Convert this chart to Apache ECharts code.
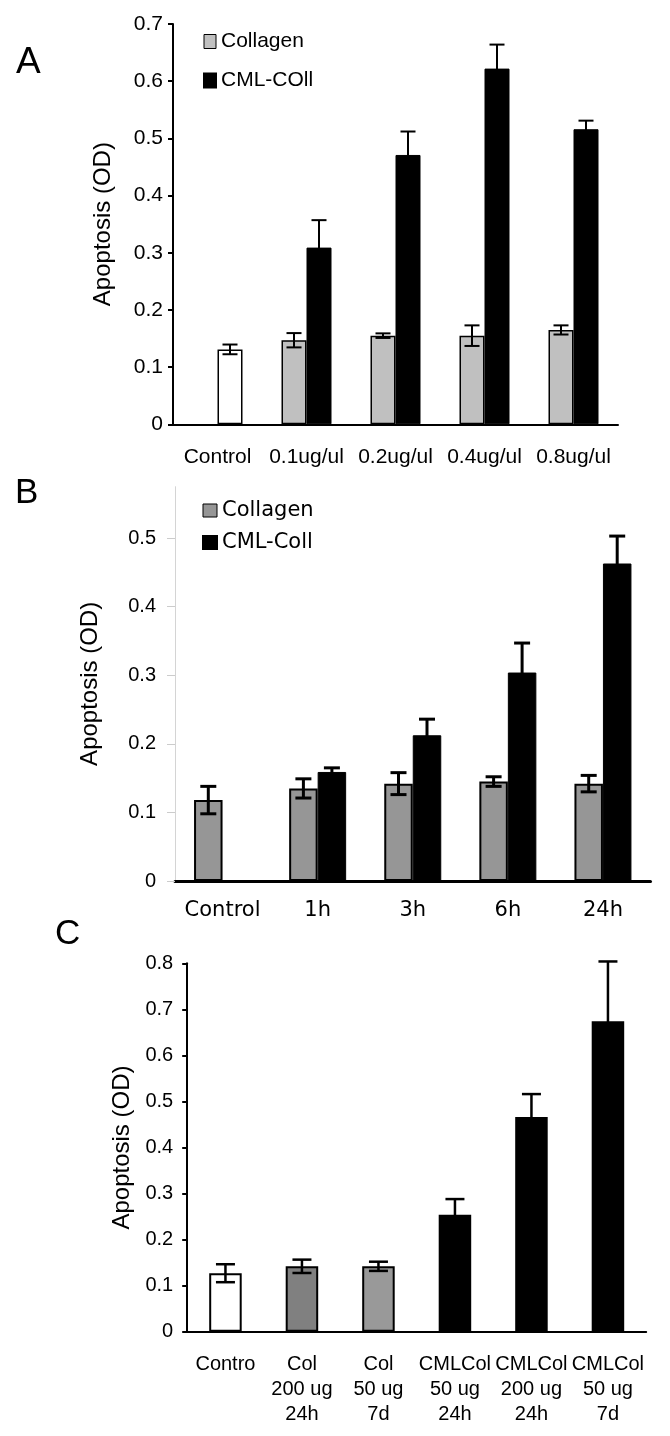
<!DOCTYPE html>
<html>
<head>
<meta charset="utf-8">
<script src="https://cdn.jsdelivr.net/npm/echarts@6/dist/echarts.min.js"></script>
<style>
  html, body { margin: 0; padding: 0; background: #ffffff; }
  #chart { width: 670px; height: 1436px; }
</style>
</head>
<body>
<div id="chart"></div>
<script>
// ---------- Panel A data ----------
const aCategories = ['Control', '0.1ug/ul', '0.2ug/ul', '0.4ug/ul', '0.8ug/ul'];
const aControl = [0.131];
const aControlErr = [0.0085];
const aCollagen = [null, 0.147, 0.155, 0.155, 0.165];
const aCollagenErr = [null, 0.0125, 0.004, 0.018, 0.008];
const aCML = [null, 0.309, 0.471, 0.622, 0.516];
const aCMLErr = [null, 0.048, 0.041, 0.042, 0.015];
const aTicks = [0, 0.7, 0.1];

// ---------- Panel B data ----------
const bCategories = ['Control', '1h', '3h', '6h', '24h'];
const bControl = [0.118];
const bControlErr = [0.020];
const bCollagen = [null, 0.135, 0.142, 0.145, 0.142];
const bCollagenErr = [null, 0.014, 0.016, 0.007, 0.012];
const bCML = [null, 0.159, 0.2125, 0.304, 0.463];
const bCMLErr = [null, 0.006, 0.0235, 0.043, 0.040];

// ---------- Panel C data ----------
const cCategories = ['Contro', 'Col\n200 ug\n24h', 'Col\n50 ug\n7d', 'CMLCol\n50 ug\n24h', 'CMLCol\n200 ug\n24h', 'CMLCol\n50 ug\n7d'];
const cValues = [0.127, 0.142, 0.142, 0.254, 0.466, 0.674];
const cErrors = [0.0195, 0.0145, 0.010, 0.034, 0.050, 0.130];

// ---------- styles ----------
const FONT = '"Liberation Sans", Arial, sans-serif';
const cColors = ['#ffffff', '#808080', '#999999', '#000000', '#000000', '#000000'];
const aBarW = 25, bBarW = 28.5, cBarW = 32.5;

function errRenderer(offset, capW, lw) {
  return function (params, api) {
    const i = api.value(0), v = api.value(1), e = api.value(2);
    const t = api.coord([i, v + e]);
    const b = api.coord([i, v - e]);
    const x = t[0] + offset;
    const st = { stroke: '#000', lineWidth: lw };
    return {
      type: 'group',
      children: [
        { type: 'line', shape: { x1: x, y1: t[1], x2: x, y2: b[1] }, style: st },
        { type: 'line', shape: { x1: x - capW / 2, y1: t[1], x2: x + capW / 2, y2: t[1] }, style: st },
        { type: 'line', shape: { x1: x - capW / 2, y1: b[1], x2: x + capW / 2, y2: b[1] }, style: st }
      ]
    };
  };
}
function errData(vals, errs) {
  const out = [];
  vals.forEach((v, i) => { if (v != null && errs[i] != null) out.push([i, v, errs[i]]); });
  return out;
}
function errSeries(idx, vals, errs, offset, capW, lw) {
  return {
    type: 'custom', xAxisIndex: idx, yAxisIndex: idx, z: 5, silent: true,
    renderItem: errRenderer(offset, capW, lw),
    encode: { x: 0, y: 1 },
    data: errData(vals, errs)
  };
}

const blackAxis = (w) => ({ show: true, lineStyle: { color: '#000', width: w } });

const option = {
  animation: false,
  backgroundColor: '#ffffff',
  grid: [
    { left: 173, top: 24, width: 445, height: 400.3 },
    { left: 175, top: 486.7, width: 475.5, height: 394.3 },
    { left: 187.2, top: 963.3, width: 459, height: 368.4 }
  ],
  xAxis: [
    { gridIndex: 0, type: 'category', data: aCategories, axisLine: blackAxis(2), axisTick: { show: false },
      axisLabel: { color: '#000', fontSize: 21, fontFamily: FONT, margin: 22, interval: 0 } },
    { gridIndex: 1, type: 'category', data: bCategories, axisLine: blackAxis(3), axisTick: { show: false },
      axisLabel: { color: '#000', fontSize: 21, fontFamily: '"DejaVu Sans", sans-serif', margin: 19, interval: 0 } },
    { gridIndex: 2, type: 'category', data: cCategories, axisLine: blackAxis(2), axisTick: { show: false },
      axisLabel: { color: '#000', fontSize: 20, lineHeight: 25, fontFamily: FONT, margin: 20, interval: 0 } }
  ],
  yAxis: [
    { gridIndex: 0, type: 'value', min: aTicks[0], max: aTicks[1], interval: aTicks[2],
      axisLine: blackAxis(2), axisTick: { show: true, length: 5, lineStyle: { color: '#000', width: 2 } },
      splitLine: { show: false },
      axisLabel: { color: '#000', fontSize: 21, fontFamily: FONT, margin: 10 },
      name: 'Apoptosis (OD)', nameLocation: 'middle', nameRotate: 90, nameGap: 58,
      nameTextStyle: { color: '#000', fontSize: 24, fontFamily: FONT } },
    { gridIndex: 1, type: 'value', min: 0, max: 0.575, interval: 0.1,
      axisLine: { show: true, lineStyle: { color: '#d4d4d4', width: 1 } },
      axisTick: { show: true, length: 8, lineStyle: { color: '#cccccc', width: 1 } },
      splitLine: { show: false },
      axisLabel: { color: '#000', fontSize: 20, fontFamily: FONT, margin: 19, showMaxLabel: false },
      name: 'Apoptosis (OD)', nameLocation: 'middle', nameRotate: 90, nameGap: 73,
      nameTextStyle: { color: '#000', fontSize: 24, fontFamily: FONT } },
    { gridIndex: 2, type: 'value', min: 0, max: 0.8, interval: 0.1,
      axisLine: blackAxis(2), axisTick: { show: true, length: 5, lineStyle: { color: '#000', width: 2 } },
      splitLine: { show: false },
      axisLabel: { color: '#000', fontSize: 20, fontFamily: FONT, margin: 14 },
      name: 'Apoptosis (OD)', nameLocation: 'middle', nameRotate: 90, nameGap: 48,
      nameTextStyle: { color: '#000', fontSize: 24, fontFamily: FONT } }
  ],
  legend: [
    { orient: 'vertical', left: 198, top: 26, itemWidth: 12, itemHeight: 14, itemGap: 18, icon: 'rect',
      selectedMode: false, textStyle: { color: '#000', fontSize: 21, fontFamily: FONT },
      data: [ { name: 'Collagen', itemStyle: { color: '#c0c0c0', borderColor: '#000', borderWidth: 1 } },
              { name: 'CML-COll', itemStyle: { color: '#000' } } ] },
    { orient: 'vertical', left: 197, top: 495, itemWidth: 14, itemHeight: 13, itemGap: 11, icon: 'rect',
      selectedMode: false, textStyle: { color: '#000', fontSize: 21, fontFamily: '"DejaVu Sans", sans-serif' },
      data: [ { name: 'Collagen', itemStyle: { color: '#969696', borderColor: '#000', borderWidth: 1 } },
              { name: 'CML-Coll', itemStyle: { color: '#000' } } ] }
  ],
  graphic: [
    { type: 'text', left: 16, top: 44, style: { text: 'A', fontSize: 37, fontFamily: FONT, fill: '#000' } },
    { type: 'text', left: 15, top: 476, style: { text: 'B', fontSize: 35, fontFamily: FONT, fill: '#000' } },
    { type: 'text', left: 55, top: 917, style: { text: 'C', fontSize: 35, fontFamily: FONT, fill: '#000' } }
  ],
  series: [
    // Panel A
    { name: 'Collagen', type: 'bar', xAxisIndex: 0, yAxisIndex: 0, barWidth: aBarW, barGap: '0%',
      itemStyle: { color: '#c0c0c0', borderColor: '#000', borderWidth: 1.5 },
      data: aCollagen.map(v => v == null ? '-' : v) },
    { name: 'CML-COll', type: 'bar', xAxisIndex: 0, yAxisIndex: 0, barWidth: aBarW, barGap: '0%',
      itemStyle: { color: '#000', borderColor: '#000', borderWidth: 1 },
      data: aCML.map((v, i) => i === 0
        ? { value: aControl[0], itemStyle: { color: '#fff', borderColor: '#000', borderWidth: 1.5 } }
        : (v == null ? '-' : v)) },
    errSeries(0, aCollagen, aCollagenErr, -aBarW / 2, 15, 2),
    errSeries(0, aCML, aCMLErr, aBarW / 2, 15, 2),
    errSeries(0, aControl, aControlErr, aBarW / 2, 15, 2),
    // Panel B
    { name: 'Collagen', type: 'bar', xAxisIndex: 1, yAxisIndex: 1, barWidth: bBarW, barGap: '0%',
      itemStyle: { color: '#969696', borderColor: '#000', borderWidth: 2 },
      data: bCollagen.map((v, i) => i === 0 ? bControl[0] : (v == null ? '-' : v)) },
    { name: 'CML-Coll', type: 'bar', xAxisIndex: 1, yAxisIndex: 1, barWidth: bBarW, barGap: '0%',
      itemStyle: { color: '#000', borderColor: '#000', borderWidth: 1 },
      data: bCML.map(v => v == null ? '-' : v) },
    errSeries(1, bCollagen, bCollagenErr, -bBarW / 2, 16, 3),
    errSeries(1, bControl, bControlErr, -bBarW / 2, 16, 3),
    errSeries(1, bCML, bCMLErr, bBarW / 2, 16, 3),
    // Panel C
    { name: 'C', type: 'bar', xAxisIndex: 2, yAxisIndex: 2, barWidth: cBarW,
      data: cValues.map((v, i) => ({ value: v, itemStyle: { color: cColors[i], borderColor: '#000', borderWidth: 2 } })) },
    errSeries(2, cValues, cErrors, 0, 19, 2.5)
  ]
};

const chart = echarts.init(document.getElementById('chart'), null, { renderer: 'canvas' });
chart.setOption(option);
</script>
</body>
</html>
